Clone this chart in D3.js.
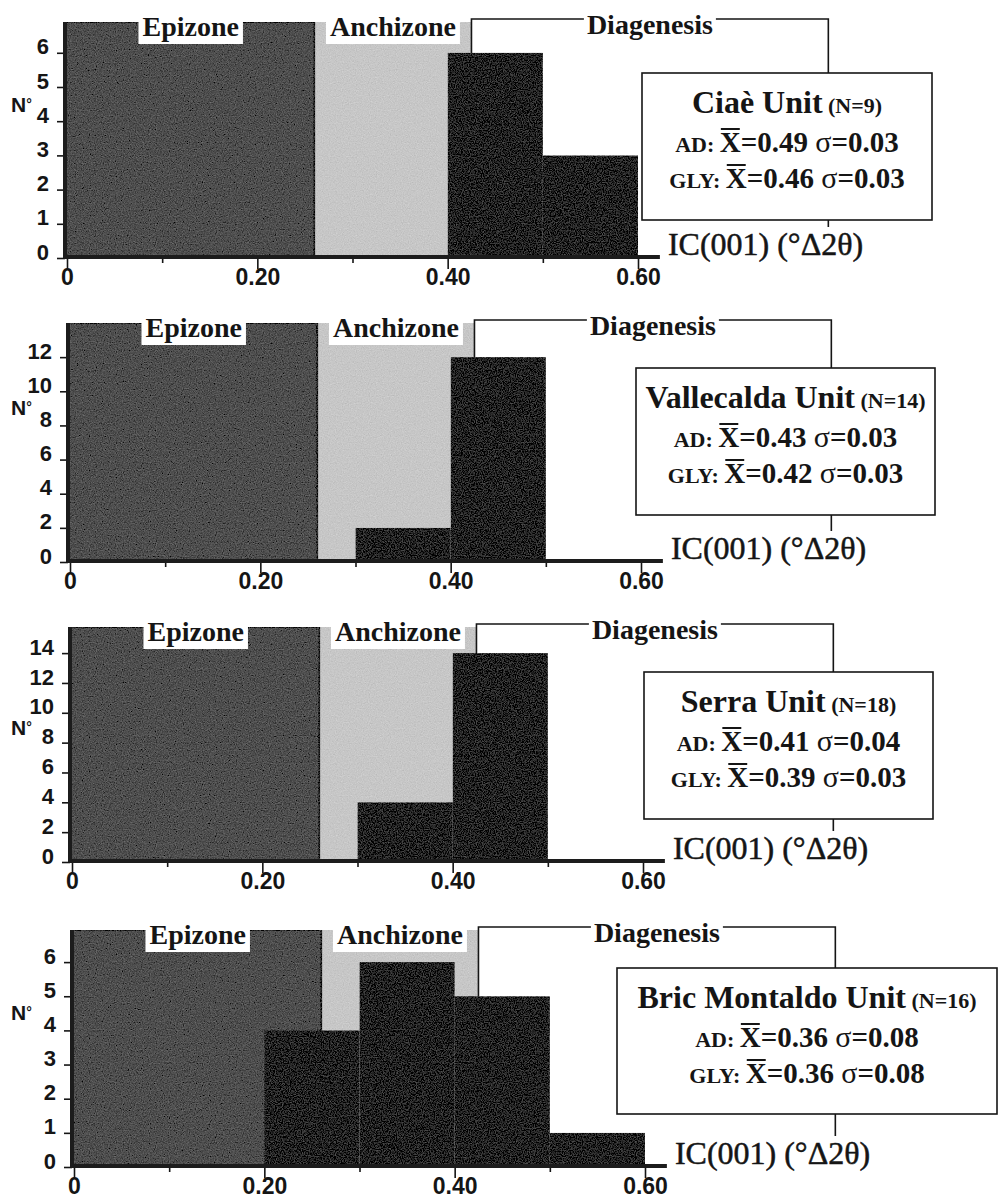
<!DOCTYPE html>
<html>
<head>
<meta charset="utf-8">
<script src="https://cdn.jsdelivr.net/npm/d3@7"></script>
<style>
body { margin: 0; background: #fff; }
svg { display: block; }
</style>
</head>
<body>
<div id="chart"></div>
<script>
var svgWidth = 1000;
var svgHeight = 1196;

// ---- data ----
var binEdges = [0, 0.1, 0.2, 0.3, 0.4, 0.5, 0.6];
var ciaeCounts = [0, 0, 0, 0, 6, 3];
var vallecaldaCounts = [0, 0, 0, 2, 12, 0];
var serraCounts = [0, 0, 0, 4, 14, 0];
var bricCounts = [0, 0, 4, 6, 5, 1];

var unitNames = ["Ciaè Unit", "Vallecalda Unit", "Serra Unit", "Bric Montaldo Unit"];
var unitN = [9, 14, 18, 16];
var adMean = [0.49, 0.43, 0.41, 0.36];
var adSd = [0.03, 0.03, 0.04, 0.08];
var glyMean = [0.46, 0.42, 0.39, 0.36];
var glySd = [0.03, 0.03, 0.03, 0.08];

var zoneNames = ["Epizone", "Anchizone", "Diagenesis"];
var zoneBounds = [0, 0.26, 0.425, 0.80];

var xTicks = [0, 0.1, 0.2, 0.3, 0.4, 0.5, 0.6];
var xTickLabels = ["0", "", "0.20", "", "0.40", "", "0.60"];
var yTicks1 = [0, 1, 2, 3, 4, 5, 6];
var yTicks2 = [0, 2, 4, 6, 8, 10, 12];
var yTicks3 = [0, 2, 4, 6, 8, 10, 12, 14];
var yTicks4 = [0, 1, 2, 3, 4, 5, 6];
var yMaxes = [6.9, 14, 15.75, 6.94];

var allCounts = [ciaeCounts, vallecaldaCounts, serraCounts, bricCounts];
var allYTicks = [yTicks1, yTicks2, yTicks3, yTicks4];

// ---- layout (pixels) ----
var panels = [
    {x0: 65, top: 22, base: 258, nY: 112, box: [642, 73, 290, 147]},
    {x0: 68, top: 323, base: 562, nY: 415, box: [636, 368, 299, 147]},
    {x0: 70, top: 627, base: 862, nY: 735, box: [644, 672, 289, 147]},
    {x0: 72, top: 930, base: 1167, nY: 1020, box: [617, 968, 380, 146]}
];

var serif = "'Liberation Serif', 'Times New Roman', serif";
var sans = "'Liberation Sans', Arial, sans-serif";
var ink = "#151515";

var svg = d3.select("#chart")
    .append("svg")
    .attr("width", svgWidth)
    .attr("height", svgHeight);

// grain to look like the scanned screen tints
var filter = svg.append("defs").append("filter")
    .attr("id", "grain")
    .attr("x", 0).attr("y", 0).attr("width", "100%").attr("height", "100%");
filter.append("feTurbulence")
    .attr("type", "fractalNoise")
    .attr("baseFrequency", 0.85)
    .attr("numOctaves", 2)
    .attr("seed", 4)
    .attr("result", "noise");
filter.append("feColorMatrix")
    .attr("in", "noise")
    .attr("type", "matrix")
    .attr("values", "0.33 0.33 0.33 0 0  0.33 0.33 0.33 0 0  0.33 0.33 0.33 0 0  0 0 0 0 1")
    .attr("result", "gray");
filter.append("feComposite")
    .attr("in", "SourceGraphic")
    .attr("in2", "gray")
    .attr("operator", "arithmetic")
    .attr("k1", 0).attr("k2", 1).attr("k3", 0.35).attr("k4", -0.17)
    .attr("result", "mix");
filter.append("feComposite")
    .attr("in", "mix")
    .attr("in2", "SourceGraphic")
    .attr("operator", "in");

panels.forEach(function(p, i) {
    var counts = allCounts[i];
    var yMax = yMaxes[i];

    var xScale = d3.scaleLinear()
        .domain([0, 0.6])
        .range([p.x0 + 2, p.x0 + 573]);

    var yScale = d3.scaleLinear()
        .domain([0, yMax])
        .range([p.base, p.top]);

    var g = svg.append("g");

    // metamorphic zones
    var zones = g.append("g").attr("filter", "url(#grain)");
    zones.append("rect")
        .attr("x", p.x0)
        .attr("y", yScale(yMax))
        .attr("width", xScale(zoneBounds[1]) - p.x0)
        .attr("height", yScale(0) - yScale(yMax))
        .attr("fill", "#4c4c4c")
        .attr("stroke", "#1c1c1c")
        .attr("stroke-width", 2);
    zones.append("rect")
        .attr("x", xScale(zoneBounds[1]) + 1)
        .attr("y", yScale(yMax))
        .attr("width", xScale(zoneBounds[2]) - xScale(zoneBounds[1]) - 1)
        .attr("height", yScale(0) - yScale(yMax))
        .attr("fill", "#c6c6c6");

    // zone labels on white patches
    [0, 1].forEach(function(k) {
        var cx = (xScale(zoneBounds[k]) + xScale(zoneBounds[k + 1])) / 2;
        var patch = g.append("rect").attr("fill", "#fff");
        var t = g.append("text")
            .text(zoneNames[k])
            .attr("x", cx)
            .attr("y", p.top + 14)
            .attr("text-anchor", "middle")
            .attr("font-family", serif)
            .attr("font-weight", "bold")
            .attr("font-size", 28)
            .attr("fill", ink);
        var w = t.node().getComputedTextLength();
        patch.attr("x", cx - w / 2 - 4)
            .attr("y", p.top - 2)
            .attr("width", w + 8)
            .attr("height", 24);
    });

    // diagenesis bracket
    var bx0 = xScale(zoneBounds[2]);
    var bx1 = xScale(zoneBounds[3]);
    var by = p.top - 3;
    g.append("path")
        .attr("d", `M${bx0},${p.base} V${by} H${bx1} V${p.base - 31}`)
        .attr("fill", "none")
        .attr("stroke", ink)
        .attr("stroke-width", 1.6);
    var dPatch = g.append("rect").attr("fill", "#fff");
    var dText = g.append("text")
        .text(zoneNames[2])
        .attr("x", (bx0 + bx1) / 2)
        .attr("y", by + 15)
        .attr("text-anchor", "middle")
        .attr("font-family", serif)
        .attr("font-weight", "bold")
        .attr("font-size", 28)
        .attr("fill", ink);
    var dw = dText.node().getComputedTextLength();
    dPatch.attr("x", (bx0 + bx1) / 2 - dw / 2 - 3)
        .attr("y", by - 6)
        .attr("width", dw + 6)
        .attr("height", 12);

    // histogram bars
    var bins = counts.map(function(c, j) {
        return {lo: binEdges[j], hi: binEdges[j + 1], n: c};
    }).filter(function(d) { return d.n > 0; });

    g.append("g").attr("filter", "url(#grain)")
        .selectAll("rect")
        .data(bins)
        .enter()
        .append("rect")
        .attr("x", d => xScale(d.lo))
        .attr("y", d => yScale(d.n))
        .attr("width", d => xScale(d.hi) - xScale(d.lo))
        .attr("height", d => yScale(0) - yScale(d.n))
        .attr("fill", "#1e1e1e");

    // axes
    var bottomAxis = d3.axisBottom(xScale)
        .tickValues(xTicks)
        .tickFormat((d, k) => xTickLabels[k])
        .tickSize(11)
        .tickSizeOuter(0);
    var gx = g.append("g")
        .attr("transform", `translate(0, ${p.base})`)
        .call(bottomAxis)
        .attr("font-family", sans)
        .attr("font-size", 23)
        .attr("font-weight", "bold");
    gx.select(".domain").remove();
    gx.selectAll(".tick line")
        .attr("y2", (d, k) => xTickLabels[k] ? 11 : 5)
        .attr("stroke", ink)
        .attr("stroke-width", 1.6);
    gx.selectAll(".tick text")
        .attr("y", 27)
        .attr("dy", 0)
        .attr("fill", ink);

    var leftAxis = d3.axisLeft(yScale)
        .tickValues(allYTicks[i])
        .tickFormat(d3.format("d"))
        .tickSize(8)
        .tickPadding(8)
        .tickSizeOuter(0);
    var gy = g.append("g")
        .attr("transform", `translate(${p.x0}, 0)`)
        .call(leftAxis)
        .attr("font-family", sans)
        .attr("font-size", 22)
        .attr("font-weight", "bold");
    gy.select(".domain").remove();
    gy.selectAll(".tick line").attr("stroke", ink).attr("stroke-width", 1.6);
    gy.selectAll(".tick text").attr("dy", "0.05em").attr("fill", ink);

    g.append("line")
        .attr("x1", p.x0).attr("x2", p.x0)
        .attr("y1", p.top).attr("y2", p.base)
        .attr("stroke", "#1c1c1c")
        .attr("stroke-width", 4);
    g.append("line")
        .attr("x1", p.x0 - 1).attr("x2", xScale(0.623))
        .attr("y1", p.base - 1).attr("y2", p.base - 1)
        .attr("stroke", "#1c1c1c")
        .attr("stroke-width", 4);

    var nLabel = g.append("text")
        .attr("x", 11)
        .attr("y", p.nY)
        .attr("font-family", sans)
        .attr("font-weight", "bold")
        .attr("font-size", 21)
        .attr("fill", ink)
        .text("N");
    nLabel.append("tspan").attr("font-size", 14).attr("dy", -3).text("°");

    g.append("text")
        .attr("x", xScale(0.623) + 8)
        .attr("y", p.base - 3)
        .attr("font-family", serif)
        .attr("font-size", 32)
        .attr("fill", ink)
        .attr("stroke", ink)
        .attr("stroke-width", 0.5)
        .text("IC(001) (°Δ2θ)");

    // statistics box
    var b = p.box;
    var cx = b[0] + b[2] / 2;
    g.append("rect")
        .attr("x", b[0]).attr("y", b[1])
        .attr("width", b[2]).attr("height", b[3])
        .attr("fill", "#fff")
        .attr("stroke", ink)
        .attr("stroke-width", 1.6);

    var title = g.append("text")
        .attr("x", cx)
        .attr("y", b[1] + 40)
        .attr("text-anchor", "middle")
        .attr("font-family", serif)
        .attr("font-weight", "bold")
        .attr("fill", ink);
    title.append("tspan").attr("font-size", 32).text(unitNames[i]);
    title.append("tspan").attr("font-size", 22).text(" (N=" + unitN[i] + ")");

    var statLines = [["AD: ", adMean[i], adSd[i]], ["GLY: ", glyMean[i], glySd[i]]];
    statLines.forEach(function(s, k) {
        var ty = b[1] + 79 + k * 36;
        var t = g.append("text")
            .attr("x", cx)
            .attr("y", ty)
            .attr("text-anchor", "middle")
            .attr("font-family", serif)
            .attr("font-weight", "bold")
            .attr("fill", ink);
        t.append("tspan").attr("font-size", 22).text(s[0]);
        t.append("tspan").attr("font-size", 29).text("X=" + s[1].toFixed(2) + " ");
        t.append("tspan").attr("font-size", 30).attr("font-weight", "normal").text("σ");
        t.append("tspan").attr("font-size", 29).text("=" + s[2].toFixed(2));
        var node = t.node();
        var xs = node.getStartPositionOfChar(s[0].length).x;
        var xe = node.getEndPositionOfChar(s[0].length).x;
        g.append("line")
            .attr("x1", xs + 1).attr("x2", xe - 1)
            .attr("y1", ty - 23).attr("y2", ty - 23)
            .attr("stroke", ink)
            .attr("stroke-width", 2);
    });
});
</script>
</body>
</html>
